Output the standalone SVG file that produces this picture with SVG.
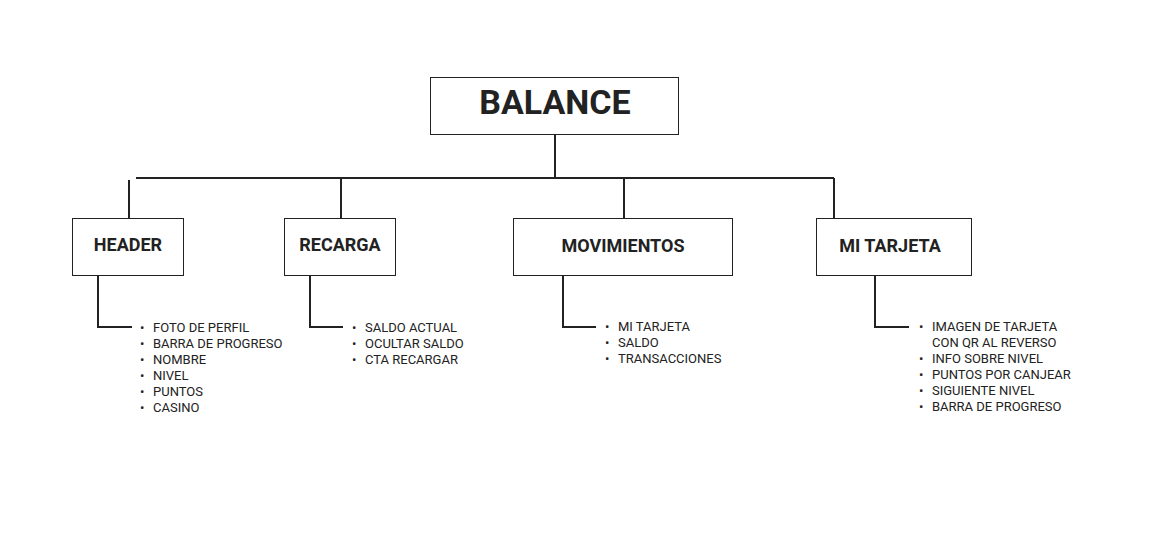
<svg xmlns="http://www.w3.org/2000/svg" width="1161" height="540" viewBox="0 0 1161 540">
<style>
.box{fill:#fff;stroke:#222;stroke-width:1}
.t{font-family:Roboto,"Liberation Sans",sans-serif;font-weight:700;fill:#222;text-anchor:middle}
.li{font-family:Roboto,"Liberation Sans",sans-serif;font-size:13px;fill:#222}
.c{fill:none;stroke:#222;stroke-width:2}
</style>
<rect width="1161" height="540" fill="#fff"/>
<g id="connectors">
<path class="c" d="M555 134V178M136 178H834M129 180V218M341 178V218M624 178V218M834 178V218"/>
<path class="c" d="M98 275V327H132M310 275V327H343M563 275V327H596M875 275V327H909"/>
</g>
<g id="balance"><rect class="box" x="430.5" y="77.5" width="248" height="57"/><text class="t" x="555" y="114" font-size="34">BALANCE</text></g>
<g id="header"><rect class="box" x="72.5" y="218.5" width="111" height="57"/><text class="t" x="128" y="251" font-size="18">HEADER</text>
<text class="li" x="140"><tspan x="140" y="332">•</tspan><tspan x="153" y="332">FOTO DE PERFIL</tspan><tspan x="140" y="348">•</tspan><tspan x="153" y="348">BARRA DE PROGRESO</tspan><tspan x="140" y="364">•</tspan><tspan x="153" y="364">NOMBRE</tspan><tspan x="140" y="380">•</tspan><tspan x="153" y="380">NIVEL</tspan><tspan x="140" y="396">•</tspan><tspan x="153" y="396">PUNTOS</tspan><tspan x="140" y="412">•</tspan><tspan x="153" y="412">CASINO</tspan></text></g>
<g id="recarga"><rect class="box" x="284.5" y="218.5" width="111" height="57"/><text class="t" x="340" y="251" font-size="18">RECARGA</text>
<text class="li"><tspan x="352" y="332">•</tspan><tspan x="365" y="332">SALDO ACTUAL</tspan><tspan x="352" y="348">•</tspan><tspan x="365" y="348">OCULTAR SALDO</tspan><tspan x="352" y="364">•</tspan><tspan x="365" y="364">CTA RECARGAR</tspan></text></g>
<g id="movimientos"><rect class="box" x="513.5" y="218.5" width="219" height="57"/><text class="t" x="623" y="252" font-size="18">MOVIMIENTOS</text>
<text class="li"><tspan x="605" y="331">•</tspan><tspan x="618" y="331">MI TARJETA</tspan><tspan x="605" y="347">•</tspan><tspan x="618" y="347">SALDO</tspan><tspan x="605" y="363">•</tspan><tspan x="618" y="363">TRANSACCIONES</tspan></text></g>
<g id="mitarjeta"><rect class="box" x="816.5" y="218.5" width="155" height="57"/><text class="t" x="890" y="252" font-size="18">MI TARJETA</text>
<text class="li"><tspan x="919" y="331">•</tspan><tspan x="932" y="331">IMAGEN DE TARJETA</tspan><tspan x="932" y="347">CON QR AL REVERSO</tspan><tspan x="919" y="363">•</tspan><tspan x="932" y="363">INFO SOBRE NIVEL</tspan><tspan x="919" y="379">•</tspan><tspan x="932" y="379">PUNTOS POR CANJEAR</tspan><tspan x="919" y="395">•</tspan><tspan x="932" y="395">SIGUIENTE NIVEL</tspan><tspan x="919" y="411">•</tspan><tspan x="932" y="411">BARRA DE PROGRESO</tspan></text></g>
</svg>
